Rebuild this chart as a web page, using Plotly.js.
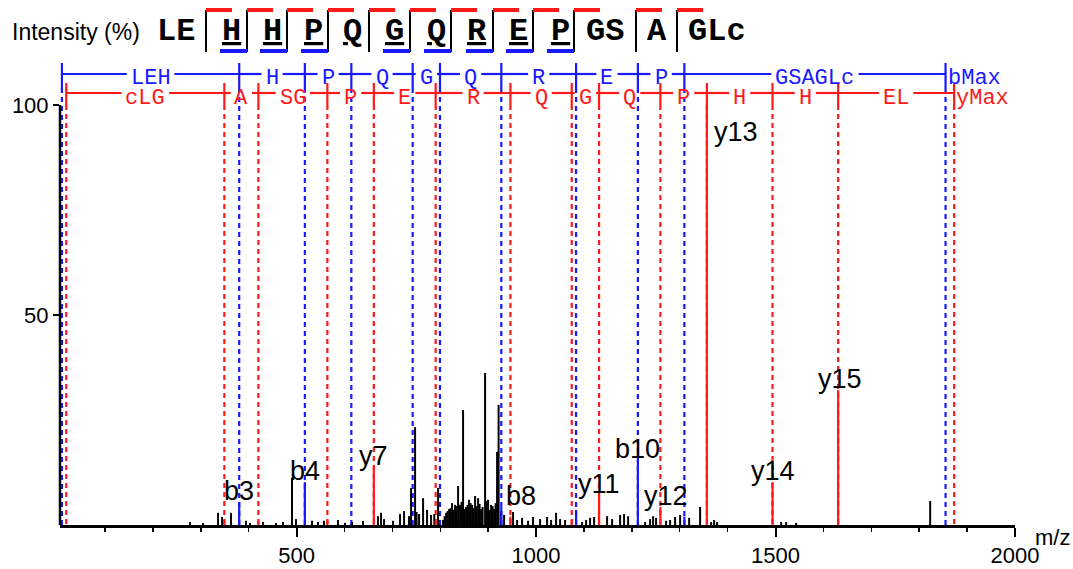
<!DOCTYPE html>
<html><head><meta charset="utf-8">
<script src="https://cdn.plot.ly/plotly-3.0.1.min.js"></script>
<style>html,body{margin:0;padding:0;background:#fff}#chart{width:1073px;height:569px}</style>
</head><body><div id="chart"></div>
<script>
// ---------------- data ----------------
// unassigned (black) peaks: m/z and relative intensity (%)
const peakMz = [
 277.5,304.7,336.0,344.4,363.1,394.4,402.7,430.0,457.0,471.6,
 490.4,498.7,532.2,544.7,557.2,586.5,601.1,615.7,638.7,670.0,
 676.3,682.6,701.4,716.0,724.4,734.8,739.0,747.4,755.7,764.1,
 772.4,780.8,795.4,805.8,812.1,818.4,824.6,830.9,837.2,841.3,
 847.6,853.9,860.1,866.4,872.7,879.0,885.2,893.6,899.8,906.1,
 912.4,918.6,921.8,933.2,952.0,960.4,970.8,983.3,993.7,1008.4,
 1023.0,1031.4,1041.8,1050.2,1060.6,1096.1,1104.5,1112.8,1121.2,1148.3,
 1158.8,1175.5,1183.8,1192.2,1227.7,1238.1,1244.4,1250.6,1271.5,1279.9,
 1290.3,1300.8,1319.6,1342.5,1365.5,1371.8,1378.0,1511.7,1522.1,1543.0,
 1822.9,
 809.0,815.3,821.5,827.8,834.0,844.5,850.7,857.0,863.3,869.5,
 875.8,882.1,888.4,896.7,903.0,909.3,915.5,927.0,787.5,750.5];
const peakInt = [
 0.7,0.5,2.9,1.9,2.9,1.0,0.5,0.7,0.5,0.7,
 11.2,1.4,1.0,0.7,1.0,1.2,0.5,0.7,1.0,2.1,
 2.9,1.4,1.0,2.6,3.3,2.1,8.8,23.3,2.6,6.4,
 3.6,2.4,8.8,1.2,2.9,3.8,5.2,4.8,9.3,4.8,
 27.4,4.3,6.0,4.8,6.9,6.4,3.8,36.2,6.0,4.8,
 3.8,17.4,28.6,2.4,3.1,1.2,1.7,1.0,1.9,1.4,
 1.9,1.2,2.9,1.4,1.2,0.7,1.2,1.7,1.9,2.1,
 1.4,2.4,2.6,2.1,0.7,1.4,2.1,1.7,1.0,1.2,
 1.9,2.4,1.7,4.3,0.7,1.2,0.7,0.7,0.7,0.5,
 5.7,
 2.1,3.3,4.0,3.6,4.5,5.5,3.8,4.8,5.2,4.0,
 4.5,5.0,4.3,5.7,3.6,4.5,5.2,3.3,2.6,3.1];

// b-ion ladder (N-terminal) positions and residue labels between them
const bMz = [10, 380.19, 517.25, 614.30, 742.36, 799.38, 927.44, 1083.54, 1212.58, 1309.64, 1855.0];
const bSeg = ['LEH','H','P','Q','G','Q','R','E','P','GSAGLc'];
// y-ion ladder (C-terminal) positions and residue labels between them
const yMz = [19.02, 349.15, 420.19, 564.24, 661.29, 790.34, 946.44, 1074.49, 1131.52, 1259.58, 1356.63, 1493.69, 1630.75, 1872.9];
const ySeg = ['cLG','A','SG','P','E','R','Q','G','Q','P','H','H','EL'];

// labelled fragment peaks
const fragName = ['b3','b4','y7','b8','y11','b10','y12','y13','y14','y15'];
const fragMz   = [380.19,517.25,661.29,927.44,1131.52,1212.58,1259.58,1356.63,1493.69,1630.75];
const fragInt  = [5.5,10.2,13.8,4.3,7.1,15.5,4.3,100,10.2,32.1];
// small matched fragment peaks without label
const minorName = ['y3','y4','y6','y8','y9','b9','y10','b11'];
const minorMz   = [349.15,420.19,564.24,790.34,946.44,1083.54,1074.49,1309.64];
const minorInt  = [1.2,1.0,1.0,1.0,2.0,3.6,1.2,2.0];

// peptide header: residue groups and observed cleavage marks after each group
const seqGroups = ['LE','H','H','P','Q','G','Q','R','E','P','GS','A','GLc'];
const seqUnder  = [false,true,true,true,true,true,true,true,true,true,false,false,false];
const cleaveB   = [false,true,true,true,false,true,true,true,true,true,false,false];
const cleaveY   = [true,true,true,true,true,true,true,true,true,true,true,true];

// ---------------- styling / layout ----------------
const W = 1073, H = 569, ML = 60, MR = 58, MT = 55, MB = 44;
const PW = W - ML - MR, PH = H - MT - MB;
const X0 = 6, X1 = 2000;
const PX_PER_MZ = PW / (X1 - X0);
const fx = px => (px - ML) / PW;
const fy = py => (H - MB - py) / PH;
const Y_PER_PX = 50 / 210;            // intensity units per pixel
const yTop = (H - MB - MT) * Y_PER_PX; // axis top in data units
const yAt = py => (H - MB - py) * Y_PER_PX;

const BLUE = 'rgb(25,25,255)', RED = 'rgb(255,25,25)';
const BL = yAt(74), BT = yAt(63), BS = yAt(88);
const RL = yAt(93), RT = yAt(83), RS = 100;
const LAD_FS = 22;

const traces = [];
const shapes = [];
const ann = [];

function stickTrace(xs, ys, color, width) {
  const X = [], Y = [];
  xs.forEach((x, i) => { X.push(x, x, null); Y.push(0, ys[i], null); });
  return {type:'scatter', mode:'lines', x:X, y:Y, line:{color, width}, hoverinfo:'skip'};
}
function dashTrace(xs, yFrom, color) {
  const X = [], Y = [];
  xs.forEach(x => { X.push(x, x, null); Y.push(yFrom, 0, null); });
  return {type:'scatter', mode:'lines', x:X, y:Y, line:{color, width:2.2, dash:'5px,4px'}, hoverinfo:'skip'};
}
function tickTrace(xs, y1, y2, color) {
  const X = [], Y = [];
  xs.forEach(x => { X.push(x, x, null); Y.push(y1, y2, null); });
  return {type:'scatter', mode:'lines', x:X, y:Y, line:{color, width:2.2}, hoverinfo:'skip'};
}
// horizontal ladder line with gaps around the residue labels
function ladderTrace(pos, labels, y, color) {
  const X = [], Y = [];
  labels.forEach((t, i) => {
    const mid = (pos[i] + pos[i+1]) / 2;
    const half = (t.length * 0.6 * LAD_FS / 2 + 4) / PX_PER_MZ;
    X.push(pos[i], mid - half, null, mid + half, pos[i+1], null);
    Y.push(y, y, null, y, y, null);
  });
  return {type:'scatter', mode:'lines', x:X, y:Y, line:{color, width:2.2}, hoverinfo:'skip'};
}
traces.push(dashTrace(bMz, BS, BLUE));
traces.push(dashTrace(yMz, RS, RED));
traces.push(tickTrace(bMz, BT, BS, BLUE));
traces.push(tickTrace(yMz, RT, RS, RED));
traces.push(ladderTrace(bMz, bSeg, BL, BLUE));
traces.push(ladderTrace(yMz, ySeg, RL, RED));

// peaks
traces.push(stickTrace(peakMz, peakInt, 'black', 2));
const isB = n => n[0] === 'b';
traces.push(stickTrace(minorMz.filter((m,i)=>isB(minorName[i])), minorInt.filter((m,i)=>isB(minorName[i])), BLUE, 2.2));
traces.push(stickTrace(minorMz.filter((m,i)=>!isB(minorName[i])), minorInt.filter((m,i)=>!isB(minorName[i])), RED, 2.2));
traces.push(stickTrace(fragMz.filter((m,i)=>isB(fragName[i])), fragInt.filter((m,i)=>isB(fragName[i])), BLUE, 2.2));
traces.push(stickTrace(fragMz.filter((m,i)=>!isB(fragName[i])), fragInt.filter((m,i)=>!isB(fragName[i])), RED, 2.2));

// ladder labels
const ladFont = {family:'Liberation Mono, monospace', size:LAD_FS};
ySeg.forEach((t, i) => ann.push({x:(yMz[i]+yMz[i+1])/2, y:RL, xref:'x', yref:'y', text:t, showarrow:false,
  xanchor:'center', yanchor:'middle', font:{...ladFont, color:RED}, borderpad:0, yshift:-5}));
ann.push({x:yMz[yMz.length-1], y:RL, xref:'x', yref:'y', text:'yMax', showarrow:false, xanchor:'left', yanchor:'middle', xshift:0, yshift:-5,
  font:{...ladFont, color:RED}});
bSeg.forEach((t, i) => ann.push({x:(bMz[i]+bMz[i+1])/2, y:BL, xref:'x', yref:'y', text:t, showarrow:false,
  xanchor:'center', yanchor:'middle', font:{...ladFont, color:BLUE}, borderpad:0, yshift:-4}));
ann.push({x:bMz[bMz.length-1], y:BL, xref:'x', yref:'y', text:'bMax', showarrow:false, xanchor:'left', yanchor:'middle', xshift:0, yshift:-4,
  font:{...ladFont, color:BLUE}});

// fragment labels
const labFont = {family:'Liberation Sans, Arial, sans-serif', size:27, color:'black'};
const labStyle = {
  b8:  {xanchor:'left', xshift:3},
  y12: {xshift:6},
  y13: {xanchor:'left', yanchor:'top', xshift:5, yshift:-10},
  y15: {xshift:2}
};
fragName.forEach((n, i) => {
  const st = labStyle[n] || {};
  ann.push(Object.assign({x:fragMz[i], y:fragInt[i], xref:'x', yref:'y', text:n, showarrow:false,
    xanchor:'center', yanchor:'bottom', yshift:-6, font:labFont}, st));
});

// y axis line (0..100 only)
shapes.push({type:'line', xref:'paper', yref:'y', x0:0, x1:0, y0:0, y1:100, line:{color:'black', width:2.5}});

// header: intensity label
ann.push({xref:'paper', yref:'paper', x:fx(76), y:fy(32), xanchor:'center', yanchor:'middle', text:'Intensity (%)', showarrow:false,
  font:{family:'Liberation Sans, Arial, sans-serif', size:23, color:'black'}});

// header: sequence
const sepPx = [206,247,287,328,369,410,451,493,533,574,636,677];
const grpPx = [176,231,272,313,352,394,436,477,518,560,605,657,717];
const seqFont = {family:'Liberation Mono, monospace', size:32, color:'black'};
seqGroups.forEach((g, i) => {
  ann.push({xref:'paper', yref:'paper', x:fx(grpPx[i]), y:fy(32), xanchor:'center', yanchor:'middle',
    text: seqUnder[i] ? '<b><u>'+g+'</u></b>' : '<b>'+g+'</b>', showarrow:false, font:seqFont});
});
sepPx.forEach((s, i) => {
  shapes.push({type:'line', xref:'paper', yref:'paper', x0:fx(s), x1:fx(s), y0:fy(10), y1:fy(52), line:{color:'black', width:2}});
  if (cleaveY[i]) shapes.push({type:'line', xref:'paper', yref:'paper', x0:fx(s), x1:fx(s+26), y0:fy(10), y1:fy(10), line:{color:RED, width:4}});
  if (cleaveB[i]) shapes.push({type:'line', xref:'paper', yref:'paper', x0:fx(s-27), x1:fx(s), y0:fy(51), y1:fy(51), line:{color:BLUE, width:4}});
});

// axis title m/z
ann.push({xref:'paper', yref:'paper', x:fx(1052), y:fy(537), xanchor:'center', yanchor:'middle', text:'m/z', showarrow:false,
  font:{family:'Liberation Sans, Arial, sans-serif', size:22, color:'black'}});

const tickFont = {family:'Liberation Sans, Arial, sans-serif', size:22, color:'black'};
const layout = {
  width:W, height:H, margin:{l:ML, r:MR, t:MT, b:MB, pad:0},
  paper_bgcolor:'white', plot_bgcolor:'white', showlegend:false, hovermode:false,
  xaxis:{range:[X0,X1], tick0:0, dtick:500, showgrid:false, zeroline:false, showline:true, linecolor:'black', linewidth:2.5,
    ticks:'outside', ticklen:9, tickwidth:2, tickcolor:'black', tickfont:tickFont,
    minor:{tick0:0, dtick:100, ticks:'outside', ticklen:4, tickwidth:1.5, tickcolor:'black', showgrid:false}},
  yaxis:{range:[0, yTop], tickmode:'array', tickvals:[50,100], ticktext:['50','100'], showgrid:false, zeroline:false, showline:false,
    ticks:'outside', ticklen:6, tickwidth:2, tickcolor:'black', tickfont:tickFont},
  shapes, annotations:ann
};
Plotly.newPlot('chart', traces, layout, {staticPlot:true, displayModeBar:false});
</script></body></html>
